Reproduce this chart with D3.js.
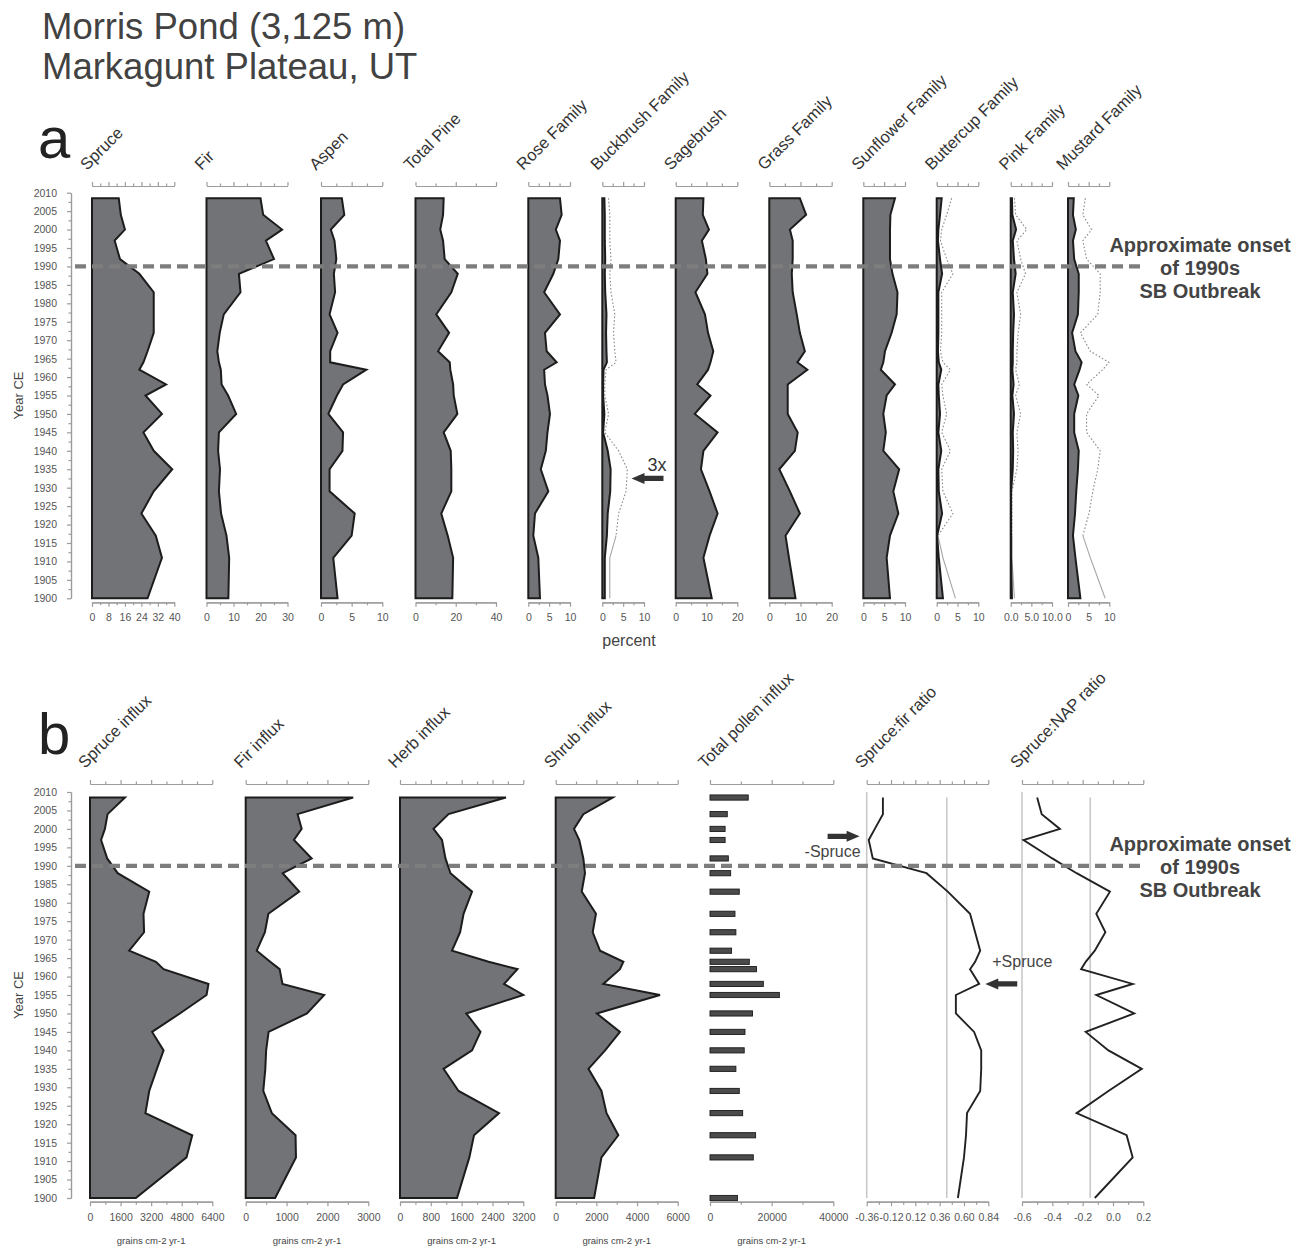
<!DOCTYPE html>
<html>
<head>
<meta charset="utf-8">
<script src="https://cdn.jsdelivr.net/npm/d3@7"></script>
<style>
  body { margin: 0; background: #fff; }
  svg text { font-family: "Liberation Sans", Arial, Helvetica, sans-serif; }
</style>
</head>
<body>
<div id="chart"></div>
<script>
// sample ages, Year CE (top of core to bottom)
const years = [2008.5, 2004, 2000, 1997, 1992, 1988, 1983, 1977, 1972, 1967, 1964, 1962,
  1958, 1955, 1950, 1945, 1940, 1935, 1929, 1923, 1917, 1911, 1900];

// panel a: pollen percentages
const spruce    = [13, 14, 16, 11, 13.6, 23, 30, 30, 30, 27, 25, 23, 36, 26, 34, 25, 30, 39, 30, 24, 31, 34, 27];
const fir       = [20, 21, 28, 22, 25, 12, 12.6, 6.4, 4.9, 4, 4.6, 5.3, 5.6, 8, 11, 4.6, 4.3, 5, 4.6, 5.4, 7.4, 8.4, 8.1];
const aspen     = [3.4, 3.8, 1.6, 2.2, 2.5, 2.1, 2.3, 1.4, 2.7, 1.5, 1.5, 7.4, 3.6, 2.6, 1.2, 3.6, 3.5, 1.4, 1.4, 5.5, 5, 2, 2.7];
const pine      = [14, 13.7, 12.3, 13.7, 14.5, 21, 17.8, 10.3, 16.7, 11.2, 17, 17.3, 18.7, 19, 20.8, 14, 17.5, 17.8, 17.8, 12.8, 16, 18.7, 18.3];
const rose      = [7.6, 8, 6.6, 7.6, 7.2, 6, 3.8, 7.6, 4, 4.4, 6.8, 3.8, 4, 4.6, 5.2, 4.6, 4.2, 3, 4.8, 1.6, 1.2, 2.4, 2.8];
const buckbrush = [0.5, 0.6, 0.6, 0.6, 0.7, 0.6, 0.7, 1.0, 0.9, 1.0, 1.1, 0.3, 0.2, 0.2, 0.5, 0.2, 1.3, 2.0, 1.9, 1.3, 1.1, 0.6, 0.6];
const sagebrush = [9, 8.8, 10.8, 8.5, 9.8, 10.3, 6.4, 9.5, 10.5, 12.2, 11.3, 10.5, 7, 11.3, 6.2, 13.6, 9, 8.2, 11, 13.6, 11, 9, 11.7];
const grass     = [9.8, 11.8, 6.6, 7.5, 7.5, 7.2, 7.5, 8.8, 9.8, 11.4, 9, 12.2, 5.9, 5.9, 5.9, 9.1, 8.2, 3.2, 6.6, 9.8, 5.2, 6.3, 8.4];
const sunflower = [7.6, 6.5, 6.4, 6.4, 6.4, 7, 8.2, 8, 6.8, 5.2, 4.8, 4.2, 7.6, 5.6, 4.8, 5.4, 4.8, 8.6, 7.2, 8.4, 6.4, 5.6, 6.4];
const buttercup = [1.2, 0.8, 0.4, 0.3, 0.8, 1.3, 0.4, 0.4, 0.4, 0.3, 0.5, 1.1, 0.4, 0.5, 0.8, 0.4, 1.1, 0.4, 0.5, 1.3, 0.1, 0.5, 1.5];
const pink      = [0.3, 0.4, 1.3, 0.5, 0.8, 1.2, 0.5, 0.8, 0.6, 0.5, 0.5, 0.4, 0.7, 0.4, 0.8, 0.5, 0.6, 0.5, 0.1, 0.1, 0.1, 0.1, 0.3];
const mustard   = [1.4, 1.2, 1.9, 1.2, 1.5, 2.6, 2.6, 2.4, 1.0, 1.8, 3.3, 2.8, 1.5, 2.5, 1.5, 1.5, 2.6, 2.4, 2.0, 1.7, 1.2, 1.8, 3.0];
const exaggeration = 3;

// panel b: influx (grains cm-2 yr-1) and ratios
const spruceInflux = [1830, 920, 780, 580, 900, 1450, 3100, 2800, 2830, 2050, 3450, 3850, 6200, 6100, 4700, 3250, 3850, 3500, 3100, 2900, 5350, 5050, 2400];
const firInflux    = [2630, 1270, 1370, 1180, 1615, 905, 1310, 555, 470, 270, 600, 830, 900, 1920, 1500, 560, 500, 480, 430, 640, 1220, 1230, 720];
const herbInflux   = [2750, 1260, 870, 1090, 1180, 1310, 1870, 1650, 1560, 1350, 2300, 3050, 2700, 3200, 1720, 2090, 1870, 1130, 1520, 2570, 1920, 1800, 1480];
const shrubInflux  = [2800, 1360, 900, 1160, 1360, 1440, 1280, 1980, 1820, 2180, 3330, 3160, 2340, 5130, 2020, 3160, 2430, 1610, 2250, 2500, 3080, 2250, 1890];
const totalInflux  = [12400, 5600, 4900, 4900, 5950, 6700, 9500, 8100, 8400, 7000, 12750, 15100, 17300, 22500, 13800, 11350, 11100, 8400, 9500, 10600, 14800, 14050, 8900];
const spruceFir    = [-0.2, -0.2, -0.28, -0.34, -0.30, 0.23, 0.44, 0.66, 0.71, 0.76, 0.71, 0.66, 0.75, 0.52, 0.52, 0.70, 0.77, 0.77, 0.76, 0.63, 0.62, 0.60, 0.54];
const spruceNap    = [-0.50, -0.47, -0.35, -0.59, -0.40, -0.24, -0.02, -0.11, -0.05, -0.12, -0.18, -0.21, 0.13, -0.11, 0.14, -0.18, -0.03, 0.19, -0.03, -0.24, 0.09, 0.13, -0.12];
const spruceFirRef = 0.43;
const spruceNapRef = -0.15;

const outbreakYear = 1990;
const outbreakText = ["Approximate onset", "of 1990s", "SB Outbreak"];

const W = 1307, H = 1249;
const fillGrey = '#727377', ink = '#1c1c1c', axisGrey = '#9c9c9c', tickText = '#555';

const svg = d3.select('#chart').append('svg')
  .attr('width', W)
  .attr('height', H);
svg.append('rect').attr('width', W).attr('height', H).attr('fill', '#fff');

// title
svg.append('text').attr('x', 42).attr('y', 39).attr('font-size', 36.5).attr('fill', '#424242')
  .text('Morris Pond (3,125 m)');
svg.append('text').attr('x', 42).attr('y', 79).attr('font-size', 36.5).attr('fill', '#424242')
  .text('Markagunt Plateau, UT');

function stepTicks(min, max, step) {
  const n = Math.round((max - min) / step);
  return d3.range(n + 1).map(i => +(min + i * step).toFixed(6));
}

function styleAxis(sel, fontSize) {
  sel.select('.domain').attr('stroke', axisGrey).attr('stroke-width', 1.2);
  sel.selectAll('.tick line').attr('stroke', axisGrey).attr('stroke-width', 1.2);
  sel.selectAll('.tick text').attr('fill', tickText).attr('font-size', fontSize)
    .attr('font-family', '"Liberation Sans", Arial, sans-serif');
}

// arrow drawn as a polygon, tip at (tx, ty), pointing left (dir=-1) or right (dir=1)
function arrow(g, tx, ty, dir) {
  const len = 32, head = 13, hh = 5.5, bh = 2.6;
  const pts = [[0, 0], [head, -hh], [head, -bh], [len, -bh], [len, bh], [head, bh], [head, hh]]
    .map(([dx, dy]) => [tx - dir * dx, ty + dy]);
  g.append('path').attr('d', d3.line()(pts) + 'Z').attr('fill', '#333');
}

function drawPanel(p) {
  const y = d3.scaleLinear().domain([2010, 1900]).range([p.y2010, p.y1900]);
  const g = svg.append('g');

  // panel letter
  g.append('text').attr('x', 38).attr('y', p.letterY).attr('font-size', 58).attr('fill', '#222')
    .text(p.letter);

  // year axis
  const yMajor = g.append('g').attr('transform', 'translate(71,0)')
    .call(d3.axisLeft(y).tickValues(d3.range(1900, 2011, 5)).tickSize(4).tickSizeOuter(0)
      .tickPadding(10).tickFormat(d3.format('d')));
  styleAxis(yMajor, 10.5);
  const yMinor = g.append('g').attr('transform', 'translate(71,0)')
    .call(d3.axisLeft(y).tickValues(d3.range(1902.5, 2010, 5)).tickSize(2.5).tickSizeOuter(0).tickFormat(''));
  styleAxis(yMinor, 10.5);
  g.append('text')
    .attr('transform', `translate(23,${(p.y2010 + p.y1900) / 2}) rotate(-90)`)
    .attr('text-anchor', 'middle').attr('font-size', 13).attr('fill', '#444')
    .text('Year CE');

  p.cols.forEach(c => {
    const min = c.min || 0;
    const x = d3.scaleLinear().domain([min, c.max]).range([c.x0, c.x1]);
    const majors = stepTicks(min, c.max, c.major);
    const minors = stepTicks(min, c.max, c.minor).filter(v => !majors.some(m => Math.abs(m - v) < 1e-9));
    const fmt = c.fmt || (v => String(v));

    // top axis, no labels
    [[majors, 4], [minors, 2.5]].forEach(([vals, size]) => {
      const ax = g.append('g').attr('transform', `translate(0,${p.topAxisY})`)
        .call(d3.axisTop(x).tickValues(vals).tickSize(size).tickSizeOuter(0).tickFormat(''));
      styleAxis(ax, 11);
    });
    // bottom axis
    const bMaj = g.append('g').attr('transform', `translate(0,${p.botAxisY})`)
      .call(d3.axisBottom(x).tickValues(majors).tickSize(4.5).tickSizeOuter(0).tickPadding(7).tickFormat(fmt));
    styleAxis(bMaj, p.tickFont);
    const bMin = g.append('g').attr('transform', `translate(0,${p.botAxisY})`)
      .call(d3.axisBottom(x).tickValues(minors).tickSize(3).tickSizeOuter(0).tickFormat(''));
    styleAxis(bMin, p.tickFont);

    const rows = years.map((yr, i) => ({ yr, v: c.data[i] }));

    if (c.type === 'bar') {
      g.append('g').selectAll('rect').data(rows).join('rect')
        .attr('x', x(min))
        .attr('y', d => y(d.yr) - 2.6)
        .attr('width', d => x(d.v) - x(min))
        .attr('height', 5.2)
        .attr('fill', '#4b4b4b')
        .attr('stroke', '#1a1a1a')
        .attr('stroke-width', 0.9);
    } else if (c.type === 'line') {
      g.append('line').attr('x1', x(min)).attr('x2', x(min))
        .attr('y1', y(2010)).attr('y2', y(1900))
        .attr('stroke', '#c8c8c8').attr('stroke-width', 1.6);
      g.append('line').attr('x1', x(c.ref)).attr('x2', x(c.ref))
        .attr('y1', y(years[0])).attr('y2', y(1900))
        .attr('stroke', '#c8c8c8').attr('stroke-width', 1.6);
      g.append('path').datum(rows)
        .attr('d', d3.line().x(d => x(d.v)).y(d => y(d.yr)))
        .attr('fill', 'none').attr('stroke', '#222').attr('stroke-width', 1.9)
        .attr('stroke-linejoin', 'miter');
    } else {
      if (c.exag) {
        const pts = rows.map(d => [x(d.v * c.exag), y(d.yr)]);
        const k = years.indexOf(1917);
        g.append('path').attr('d', d3.line()(pts.slice(0, k + 1)))
          .attr('fill', 'none').attr('stroke', '#8a8a8a').attr('stroke-width', 1.1)
          .attr('stroke-dasharray', '1.6,2');
        g.append('path').attr('d', d3.line()(pts.slice(k)))
          .attr('fill', 'none').attr('stroke', '#a8a8a8').attr('stroke-width', 1.1);
      }
      g.append('path').datum(rows)
        .attr('d', d3.area().y(d => y(d.yr)).x0(x(min)).x1(d => x(d.v)))
        .attr('fill', fillGrey).attr('stroke', ink).attr('stroke-width', 2)
        .attr('stroke-linejoin', 'miter');
    }

    // column name, rotated
    g.append('text')
      .attr('transform', `translate(${c.x0 - 5},${p.labelY}) rotate(-45)`)
      .attr('font-size', 16.5).attr('fill', '#333')
      .text(c.label);

    if (p.unitLabel && c.type !== 'line') {
      g.append('text').attr('x', (c.x0 + c.x1) / 2).attr('y', p.botAxisY + 42)
        .attr('text-anchor', 'middle').attr('font-size', 9.5).attr('fill', '#444')
        .text(p.unitLabel);
    }
    c.scale = x;
  });

  // outbreak line and note
  g.append('line').attr('x1', 75).attr('x2', 1142)
    .attr('y1', y(outbreakYear)).attr('y2', y(outbreakYear))
    .attr('stroke', '#7d7d7d').attr('stroke-width', 4.3).attr('stroke-dasharray', '11,6');
  g.append('text').attr('x', 1200).attr('y', y(outbreakYear) - 14.5)
    .attr('text-anchor', 'middle').attr('font-size', 20).attr('font-weight', 'bold').attr('fill', '#444')
    .selectAll('tspan').data(outbreakText).join('tspan')
    .attr('x', 1200).attr('dy', (d, i) => i === 0 ? 0 : 23).text(d => d);

  return { g, y };
}

const panelA = {
  letter: 'a', letterY: 158,
  y2010: 192.7, y1900: 598.3, topAxisY: 186, botAxisY: 602.3, labelY: 171, tickFont: 10.5,
  cols: [
    { label: 'Spruce', data: spruce, x0: 92, x1: 174.3, max: 40, major: 8, minor: 4 },
    { label: 'Fir', data: fir, x0: 206.5, x1: 287.5, max: 30, major: 10, minor: 5 },
    { label: 'Aspen', data: aspen, x0: 321, x1: 382.3, max: 10, major: 5, minor: 2.5 },
    { label: 'Total Pine', data: pine, x0: 415.5, x1: 496, max: 40, major: 20, minor: 10 },
    { label: 'Rose Family', data: rose, x0: 528.3, x1: 570, max: 10, major: 5, minor: 2.5 },
    { label: 'Buckbrush Family', data: buckbrush, x0: 602.3, x1: 644, max: 10, major: 5, minor: 2.5, exag: exaggeration },
    { label: 'Sagebrush', data: sagebrush, x0: 675.7, x1: 737.3, max: 20, major: 10, minor: 5 },
    { label: 'Grass Family', data: grass, x0: 769.3, x1: 831.7, max: 20, major: 10, minor: 5 },
    { label: 'Sunflower Family', data: sunflower, x0: 863.3, x1: 905, max: 10, major: 5, minor: 2.5 },
    { label: 'Buttercup Family', data: buttercup, x0: 936.7, x1: 978.3, max: 10, major: 5, minor: 2.5, exag: exaggeration },
    { label: 'Pink Family', data: pink, x0: 1010.7, x1: 1052, max: 10, major: 5, minor: 2.5, exag: exaggeration, fmt: v => v.toFixed(1) },
    { label: 'Mustard Family', data: mustard, x0: 1068, x1: 1109.3, max: 10, major: 5, minor: 2.5, exag: exaggeration }
  ]
};

const panelB = {
  letter: 'b', letterY: 754,
  y2010: 792, y1900: 1198, topAxisY: 784, botAxisY: 1201.7, labelY: 769, tickFont: 10.5,
  unitLabel: 'grains cm-2 yr-1',
  cols: [
    { label: 'Spruce influx', data: spruceInflux, x0: 90, x1: 212.3, max: 6400, major: 1600, minor: 800 },
    { label: 'Fir influx', data: firInflux, x0: 245.7, x1: 368.3, max: 3000, major: 1000, minor: 500 },
    { label: 'Herb influx', data: herbInflux, x0: 400, x1: 523.3, max: 3200, major: 800, minor: 400 },
    { label: 'Shrub influx', data: shrubInflux, x0: 555.7, x1: 677.7, max: 6000, major: 2000, minor: 1000 },
    { label: 'Total pollen influx', data: totalInflux, x0: 710, x1: 833.3, max: 40000, major: 20000, minor: 10000, type: 'bar' },
    { label: 'Spruce:fir ratio', data: spruceFir, x0: 866.7, x1: 988.3, min: -0.36, max: 0.84, major: 0.24, minor: 0.12,
      type: 'line', ref: spruceFirRef, fmt: v => v.toFixed(2) },
    { label: 'Spruce:NAP ratio', data: spruceNap, x0: 1022, x1: 1143.3, min: -0.6, max: 0.2, major: 0.2, minor: 0.1,
      type: 'line', ref: spruceNapRef, fmt: v => v.toFixed(1) }
  ]
};

const a = drawPanel(panelA);
const b = drawPanel(panelB);

// "percent" caption under panel a
a.g.append('text').attr('x', 629).attr('y', 646).attr('text-anchor', 'middle')
  .attr('font-size', 16).attr('fill', '#444').text('percent');

// 3x exaggeration note on buckbrush
const buck = panelA.cols[5].scale;
arrow(a.g, buck(7), a.y(1932.5), -1);
a.g.append('text').attr('x', buck(7) + 16).attr('y', a.y(1932.5) - 7)
  .attr('font-size', 18).attr('fill', '#333').text('3x');

// spruce:fir markers
const sf = panelB.cols[5].scale;
arrow(b.g, sf(-0.43), b.y(1998), 1);
b.g.append('text').attr('x', sf(-0.43) + 1).attr('y', b.y(1998) + 21)
  .attr('text-anchor', 'end').attr('font-size', 16).attr('fill', '#444').text('-Spruce');
arrow(b.g, sf(0.81), b.y(1958), -1);
b.g.append('text').attr('x', sf(0.81) + 7).attr('y', b.y(1962.5))
  .attr('font-size', 16).attr('fill', '#444').text('+Spruce');
</script>
</body>
</html>
